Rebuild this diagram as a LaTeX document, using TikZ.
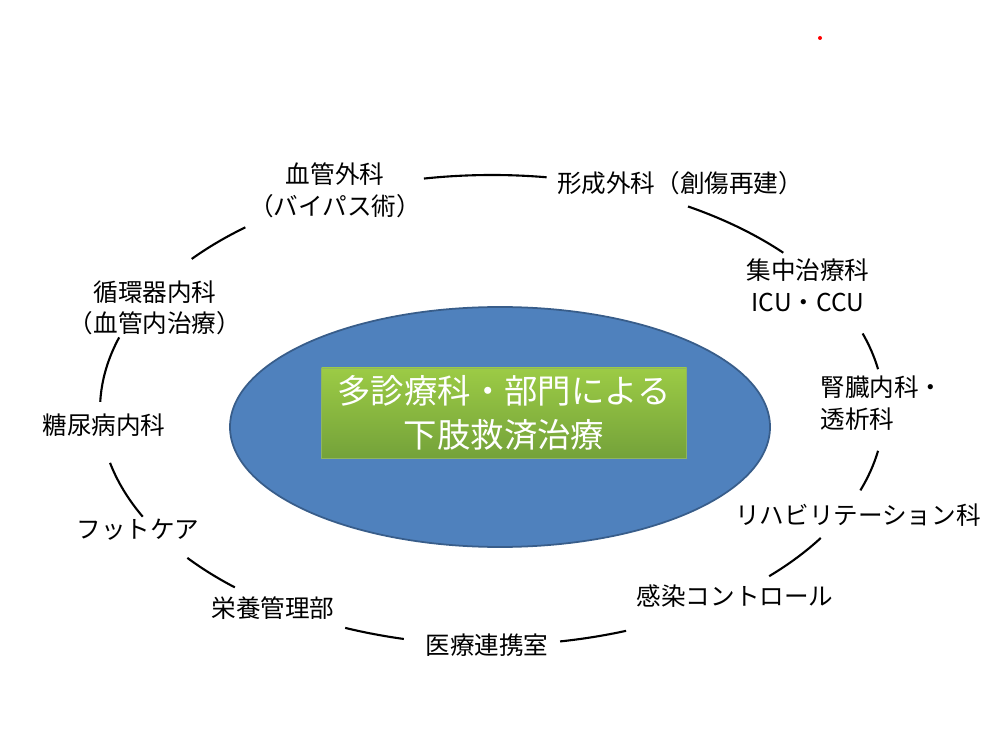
\documentclass[tikz,border=0pt]{standalone}
\usepackage{fontspec}
\setmainfont{Noto Sans CJK JP}
\usetikzlibrary{positioning}
\definecolor{ovalblue}{HTML}{4F81BD}
\definecolor{ovaledge}{HTML}{385D8A}
\definecolor{boxtop}{HTML}{9CCB45}
\definecolor{boxbot}{HTML}{74A23A}
\tikzset{%
	dept/.style={align=center, font=\fontsize{14}{18}\selectfont, inner sep=1pt},
	ring/.style={line width=1.2pt},
}
\begin{document}
\begin{tikzpicture}[x=0.02cm, y=0.02cm]
	\useasboundingbox (0,0) rectangle (986,737);
	\fill[red] (820,699) circle (2);
	% centre
	\draw[ovaledge, fill=ovalblue, line width=1pt] (500,310) ellipse [x radius=270, y radius=120];
	\node[top color=boxtop, bottom color=boxbot, draw=boxbot!80!white, minimum width=365*0.02cm, minimum height=90*0.02cm,
		text=white, align=center, font=\fontsize{19}{25}\selectfont] (core) at (504,324) {多診療科・部門による\\下肢救済治療};
	% departments
	\node[dept] (vasc) at (335,547) {血管外科\\（バイパス術）};
	\node[dept] (plast) at (680,554) {形成外科（創傷再建）};
	\node[dept] (icu) at (808,452) {集中治療科\\ICU・CCU};
	\node[dept, align=left] (renal) at (882,334) {腎臓内科・\\透析科};
	\node[dept] (rehab) at (858,222) {リハビリテーション科};
	\node[dept] (infect) at (735,141) {感染コントロール};
	\node[dept] (liaison) at (487,92) {医療連携室};
	\node[dept] (nutr) at (273,129) {栄養管理部};
	\node[dept] (foot) at (138,207) {フットケア};
	\node[dept] (diab) at (104,312) {糖尿病内科};
	\node[dept] (cardio) at (155,429) {循環器内科\\（血管内治療）};
	% ring between departments
	\coordinate (ringc) at (492,327);
	\foreach \a/\b in {82/100, 42/60, 10/19, -20/-10, -45/-33, -80/-70, -112/-103, -141/-131, -167/-153, 162/178, 129/140}{
		\draw[ring] ([shift={(\a:392 and 235)}]ringc) arc[start angle=\a, end angle=\b, x radius=392, y radius=235];
	}
\end{tikzpicture}
\end{document}
